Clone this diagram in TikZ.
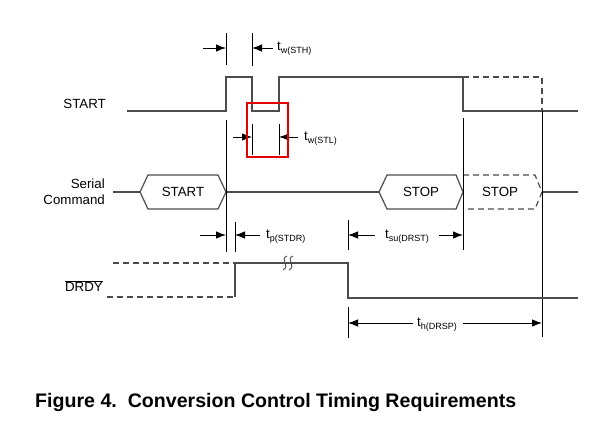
\documentclass[tikz,border=0pt]{standalone}
\usepackage{fontspec}
\setmainfont{Liberation Sans}
\usetikzlibrary{arrows.meta}
\tikzset{
sigLine/.style={line width=1.2pt, draw=black!70},
sigDashed/.style={sigLine, dash pattern=on 6pt off 4pt},
tickLine/.style={line width=0.9pt, draw=black},
dimArrow/.style={line width=0.9pt, -{Latex[length=10pt,width=7.5pt]}},
lbl/.style={font=\fontsize{13.3}{16}\selectfont, inner sep=0pt}
}
\newcommand{\tname}[2]{t\raisebox{-0.45ex}{\fontsize{9}{10}\selectfont #1(#2)}}

\begin{document}
\begin{tikzpicture}[x=1pt,y=-1pt]
    \useasboundingbox (0,0) rectangle (610,437);

    % START
    \node[lbl, anchor=east] (startLbl) at (106,104) {START};
    \draw[sigLine] (127,111) -- (226,111) -- (226,77) -- (252,77) -- (252,111)
        -- (279,111) -- (279,77) -- (463,77) -- (463,111) -- (578,111);
    \draw[sigDashed] (463,77) -- (542,77) -- (542,111);

    % t_w(STH)
    \draw[tickLine] (226,33) -- (226,65) (252,33) -- (252,66);
    \draw[dimArrow] (203,48) -- (226,48);
    \draw[dimArrow] (273,48) -- (252,48);
    \node[lbl, anchor=west] (tSTH) at (277,49) {\tname{w}{STH}};

    % t_w(STL)
    \draw[tickLine] (252,124) -- (252,155) (279,124) -- (279,155);
    \draw[dimArrow] (233,137) -- (252,137);
    \draw[dimArrow] (298,137) -- (279,137);
    \node[lbl, anchor=west] (tSTL) at (304,139) {\tname{w}{STL}};
    \draw[red!90!black, line width=2.4pt] (247,103) rectangle (288,157);

    % Serial Command
    \node[lbl, anchor=east, align=right] (serLbl) at (105,192) {Serial\\Command};
    \draw[sigLine] (113,192) -- (140,192);
    \draw[sigLine] (140,192) -- (148,175) -- (218,175) -- (226,192) -- (218,209) -- (148,209) -- cycle;
    \draw[sigLine] (226,192) -- (379,192);
    \draw[sigLine] (379,192) -- (387,175) -- (456,175) -- (463,192) -- (456,209) -- (387,209) -- cycle;
    \draw[sigDashed] (463,175) -- (535,175) -- (542,192) -- (535,209) -- (463,209);
    \draw[sigLine] (542,192) -- (578,192);
    \node[lbl] (cmdStart) at (183,192) {START};
    \node[lbl] (cmdStop) at (421,192) {STOP};
    \node[lbl] (cmdStopB) at (500,192) {STOP};

    % long markers
    \draw[tickLine] (226,120) -- (226,252);
    \draw[tickLine] (463,118) -- (463,250);
    \draw[tickLine] (542,111) -- (542,337);

    % t_p(STDR)
    \draw[tickLine] (235,222) -- (235,252);
    \draw[dimArrow] (200,235) -- (226,235);
    \draw[dimArrow] (260,235) -- (235,235);
    \node[lbl, anchor=west] (tSTDR) at (266,237) {\tname{p}{STDR}};

    % t_su(DRST)
    \draw[tickLine] (348,220) -- (348,250);
    \draw[dimArrow] (375,235) -- (348,235);
    \draw[dimArrow] (439,235) -- (463,235);
    \node[lbl] (tDRST) at (407,237) {\tname{su}{DRST}};

    % DRDY
    \node[lbl, anchor=east] (drdyLbl) at (103,286) {$\overline{\mbox{DRDY}}$};
    \draw[sigDashed] (113,263) -- (235,263);
    \draw[sigDashed] (107,297) -- (235,297);
    \draw[sigLine] (235,297) -- (235,263) -- (348,263) -- (348,298) -- (578,298);
    \foreach \dx in {0,6}
        \draw[line width=0.9pt, black!70] (287+\dx,256) .. controls (279+\dx,259) and (291+\dx,266) .. (283+\dx,270);

    % t_h(DRSP)
    \draw[tickLine] (348,307) -- (348,338);
    \draw[dimArrow] (413,323) -- (348,323);
    \draw[dimArrow] (463,323) -- (542,323);
    \node[lbl] (tDRSP) at (437,325) {\tname{h}{DRSP}};

    \node[anchor=west, inner sep=0pt, font=\bfseries\fontsize{19.6}{22}\selectfont] (caption) at (35,402)
        {Figure 4.\ \ Conversion Control Timing Requirements};
\end{tikzpicture}
\end{document}
